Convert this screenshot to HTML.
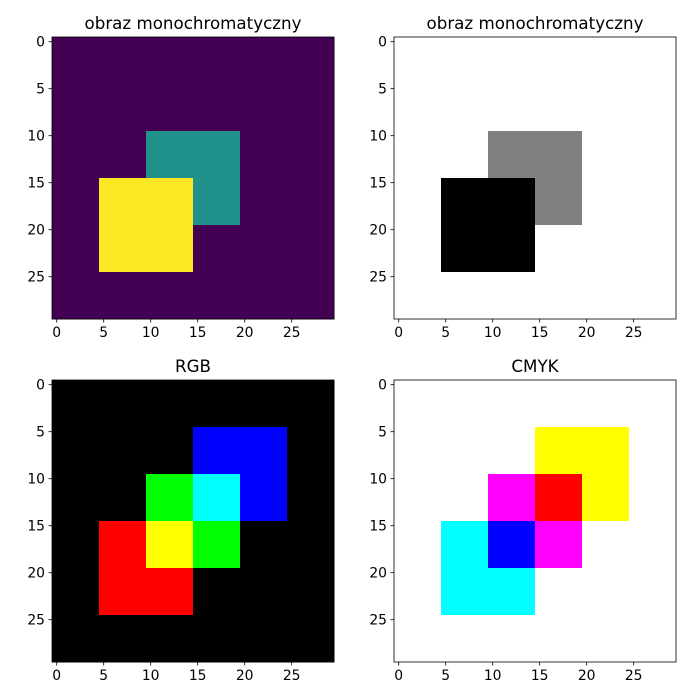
<!DOCTYPE html>
<html><head><meta charset="utf-8"><style>
body{margin:0;background:#fff;}
svg{display:block;font-family:"DejaVu Sans","Liberation Sans",sans-serif;}
</style></head><body>
<svg id="fig" width="700" height="700" viewBox="0 0 700 700"></svg>
<script>
// data
const gridSize = 30;
const monoSquares = [[10,10,10,0.5],[5,15,10,1.0]]; // col,row,size,value
const rgbSquares = [[15,5,10,'b'],[10,10,10,'g'],[5,15,10,'r']];
const cmykSquares = [[15,5,10,'y'],[10,10,10,'m'],[5,15,10,'c']];
const tickValues = [0,5,10,15,20,25];
const titles = ['obraz monochromatyczny','obraz monochromatyczny','RGB','CMYK'];

const NS='http://www.w3.org/2000/svg';
const svg=document.getElementById('fig');
function mk(t,a,p){const e=document.createElementNS(NS,t);for(const k in a)e.setAttribute(k,a[k]);(p||svg).appendChild(e);return e;}

const panels=[{x:52,y:37},{x:394,y:37},{x:52,y:380},{x:394,y:380}];
const W=282;
function inside(c,r,s){return c>=s[0]&&c<s[0]+s[2]&&r>=s[1]&&r<s[1]+s[2];}
function viridis(v){return v>=1?'#fde725':v>=0.5?'#21918c':'#440154';}
function gray(v){const g=Math.round(255*(1-v));return 'rgb('+g+','+g+','+g+')';}
function cellColor(p,c,r){
  if(p<2){let v=0;monoSquares.forEach(s=>{if(inside(c,r,s))v=s[3];});return p==0?viridis(v):gray(v);}
  if(p==2){let rgb=[0,0,0];rgbSquares.forEach(s=>{if(inside(c,r,s))rgb['rgb'.indexOf(s[3])]=255;});return 'rgb('+rgb.join(',')+')';}
  let rgb=[255,255,255];cmykSquares.forEach(s=>{if(inside(c,r,s))rgb['cmy'.indexOf(s[3])]=0;});return 'rgb('+rgb.join(',')+')';
}
panels.forEach((P,p)=>{
  const g=mk('g',{});
  
  
  const img=mk('g',{'shape-rendering':'crispEdges'},g);
  const cs=W/gridSize;
  const xs=c=>P.x+c*cs, ys=r=>P.y+r*cs;
  for(let r=0;r<gridSize;r++)for(let c=0;c<gridSize;c++){
    mk('rect',{x:xs(c),y:ys(r),width:cs+0.5,height:cs+0.5,fill:cellColor(p,c,r)},img);
  }
  const fr=mk('rect',{x:P.x,y:P.y,width:W,height:W,fill:'none',stroke:'#000','stroke-width':0.8},g);
  
  
  tickValues.forEach(t=>{
    const px=xs(t+0.5), py=ys(t+0.5);
    mk('line',{x1:px,x2:px,y1:P.y+W,y2:P.y+W+3.5,stroke:'#000','stroke-width':0.8},g);
    const xl=mk('text',{x:px,y:P.y+W+18,'font-size':13.9,'text-anchor':'middle'},g);xl.textContent=t;
    
    
    mk('line',{x1:P.x-3.5,x2:P.x,y1:py,y2:py,stroke:'#000','stroke-width':0.8},g);
    const yl=mk('text',{x:P.x-7,y:py+5,'font-size':13.9,'text-anchor':'end'},g);yl.textContent=t;
    
    
  });
  const tt=mk('text',{x:P.x+W/2,y:P.y-8,'font-size':16.7,'text-anchor':'middle'},g);tt.textContent=titles[p];
  
  
});
</script>
</body></html>
